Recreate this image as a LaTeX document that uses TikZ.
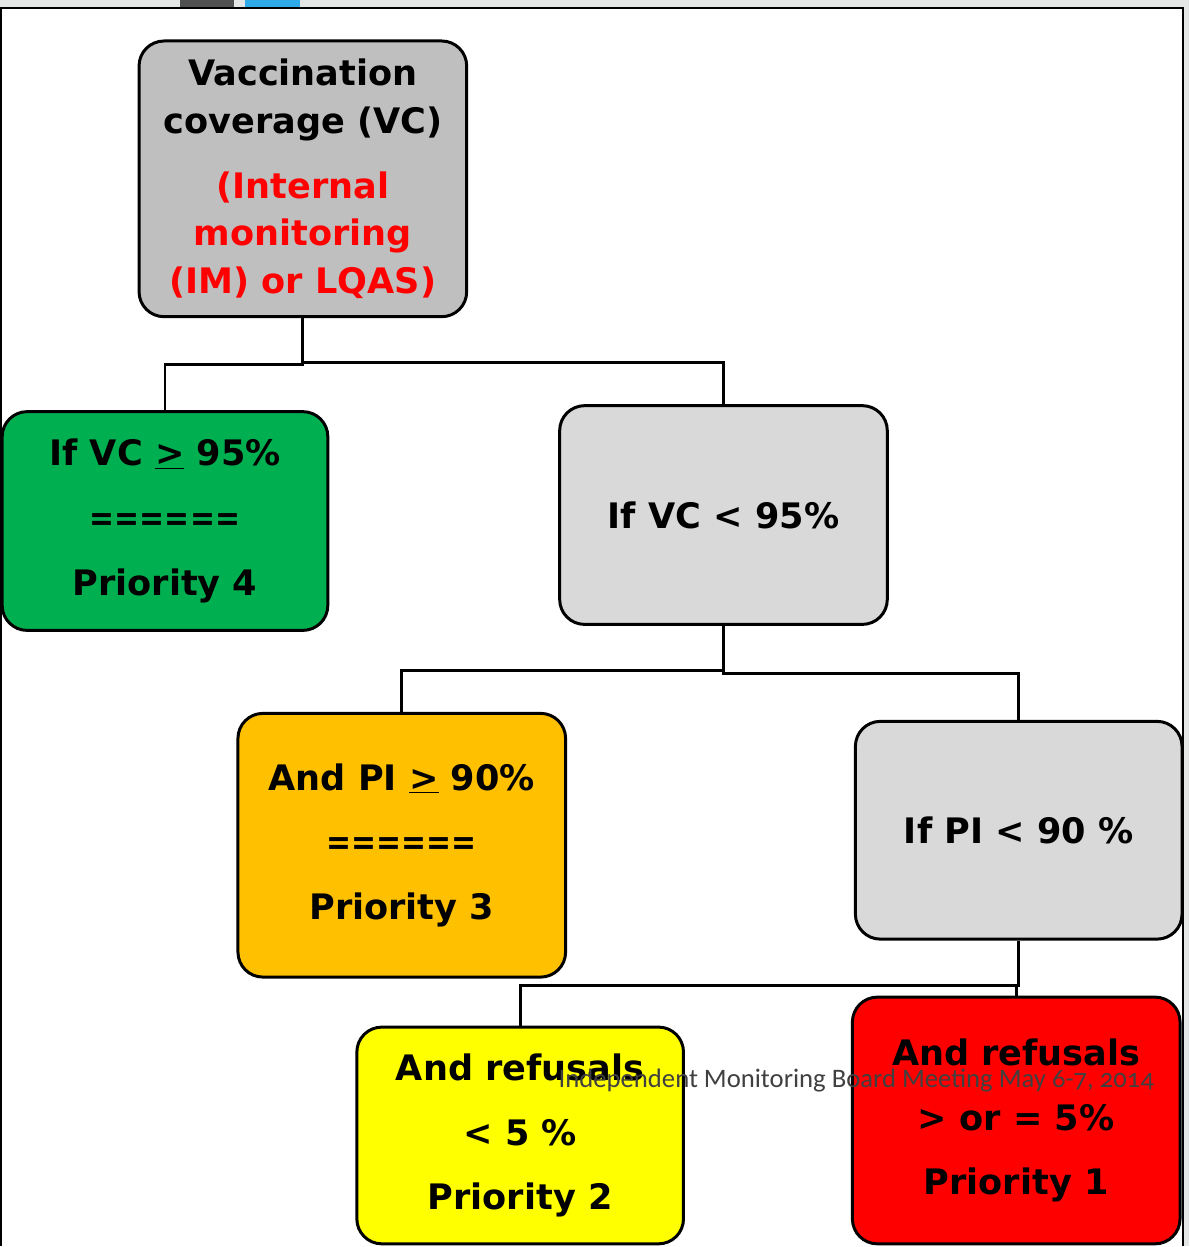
\documentclass[tikz,border=0pt]{standalone}
\usepackage{fontspec}
\setmainfont{DejaVu Sans}
\newfontfamily\footfont[Numbers=OldStyle]{Carlito}
\usepackage{tikz}
\usetikzlibrary{positioning, calc}

\definecolor{boxgray}{HTML}{BFBFBF}
\definecolor{lightgray}{HTML}{D9D9D9}
\definecolor{prgreen}{HTML}{00B050}
\definecolor{prorange}{HTML}{FFC000}
\definecolor{pryellow}{HTML}{FFFF00}
\definecolor{prred}{HTML}{FF0000}
\definecolor{slidebg}{HTML}{E4E6E6}
\definecolor{tabdark}{HTML}{505050}
\definecolor{tabblue}{HTML}{2EAAE8}

\newcommand{\eqline}{\scalebox{0.85}[1]{======}}

\begin{document}
\begin{tikzpicture}[x=0.02cm, y=-0.02cm, line width=1.6pt,
    box/.style={draw, rounded corners=0.5cm, align=center, line width=1.7pt,
        minimum width=6.56cm, font=\bfseries\fontsize{20}{36.85}\selectfont},
    link/.style={draw, line width=1.6pt}]
    % slide frame
    \fill[slidebg] (0,0) rectangle (1190,1247);
    \fill[white] (1,8) rectangle (1184,1247);
    \fill[tabdark] (180,0) rectangle (234,7);
    \fill[tabblue] (245,0) rectangle (300,7);
    \draw[line width=1.3pt] (1,1247) -- (1,8) -- (1184,8) -- (1184,1247);
    \useasboundingbox (0,0) rectangle (1190,1247);

    % Vaccination coverage
    \node[box, fill=boxgray, minimum height=5.52cm, font=\bfseries\fontsize{20}{27.2}\selectfont] (vc) at (303,179)
        {Vaccination\\ coverage (VC)\\[9.6pt]
         \textcolor{prred}{(Internal}\\ \textcolor{prred}{monitoring}\\ \textcolor{prred}{(IM) or LQAS)}};

    % First level
    \node[box, fill=prgreen, minimum width=6.52cm, minimum height=4.38cm] (prio4) at (165,521.5)
        {If VC \underline{>} 95\%\\ \eqline\\ Priority 4};
    \node[box, fill=lightgray, minimum height=4.38cm] (vclow) at (724,515.5) {If VC < 95\%};

    % Second level
    \node[box, fill=prorange, minimum height=5.28cm] (prio3) at (402,846)
        {And PI \underline{>} 90\%\\ \eqline\\ Priority 3};
    \node[box, fill=lightgray, minimum width=6.54cm, minimum height=4.36cm] (pilow) at (1019.5,831) {If PI < 90 \%};

    % Third level
    \node[box, fill=pryellow, minimum width=6.54cm, minimum height=4.34cm] (prio2) at (520.5,1136.5)
        {And refusals\\ < 5 \%\\ Priority 2};
    \node[box, fill=prred, minimum height=4.94cm] (prio1) at (1017,1121.5)
        {And refusals\\ > or = 5\%\\ Priority 1};

    % Connections
    \draw[link] (vc.south) -- ++(0,46) -| (prio4.north);
    \draw[link] (vc.south) -- ++(0,44) -| (vclow.north);
    \draw[link] (vclow.south) -- ++(0,45) -| (prio3.north);
    \draw[link] (vclow.south) -- ++(0,48) -| (pilow.north);
    \draw[link] (pilow.south) -- ++(0,45) -| (prio2.north);
    \draw[link] (pilow.south) -- ++(0,45) -| (prio1.north);

    % footer
    \node[text=black!75, font=\footfont\fontsize{15.2}{18}\selectfont] (footer) at (857,1082)
        {Independent Monitoring Board Meeting May 6-7, 2014};
\end{tikzpicture}
\end{document}
